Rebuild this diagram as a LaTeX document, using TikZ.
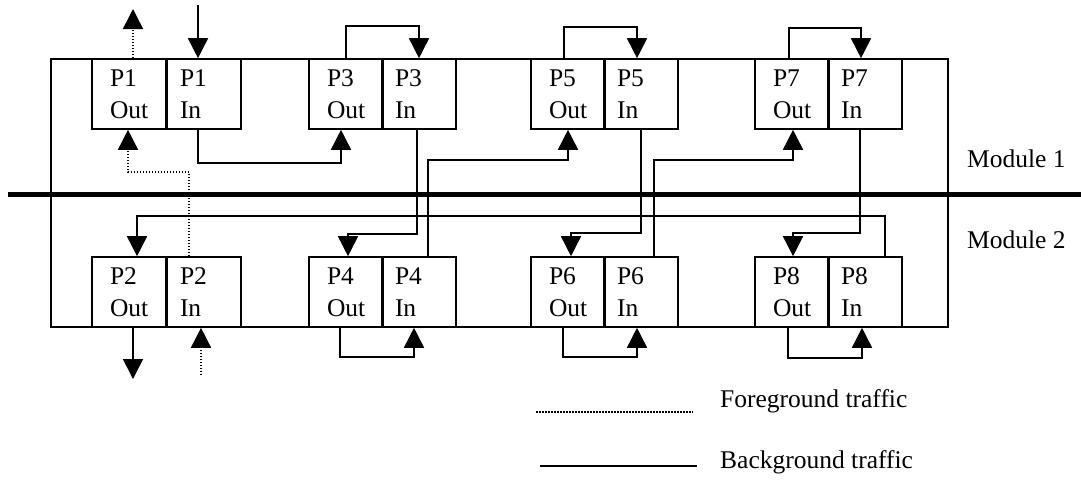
\documentclass[tikz,border=0pt]{standalone}
\usepackage{fontspec}
\setmainfont{Liberation Serif}
\usetikzlibrary{arrows.meta}
\begin{document}
\begin{tikzpicture}[x=1pt,y=-1pt,
  port/.style={draw, line width=1.6pt, minimum width=74pt, minimum height=70pt,
    inner sep=0pt, align=left, font=\fontsize{25.5}{32}\selectfont},
  outport/.style={port, text width=38pt},
  inport/.style={port, text width=48pt},
  bgline/.style={line width=1.6pt},
  bg/.style={bgline, -{Triangle[length=20pt,width=20pt]}},
  fgline/.style={line width=1.5pt, dash pattern=on 1.5pt off 1.5pt},
  fg/.style={fgline, -{Triangle[length=20pt,width=20pt]}},
  lbl/.style={font=\fontsize{25.5}{30}\selectfont, anchor=base west, inner sep=0pt}]
\useasboundingbox (0,0) rectangle (1081,479);

% module frame and separator
\draw[line width=1.6pt] (51,59) rectangle (948,327);
\draw[line width=5pt] (8,194) -- (1081,194);

% module 1 ports
\node[outport] (P1out) at (129,94) {P1\\Out};
\node[inport]  (P1in)  at (204,94) {P1\\In};
\node[outport] (P3out) at (346,94) {P3\\Out};
\node[inport]  (P3in)  at (419,94) {P3\\In};
\node[outport] (P5out) at (568,94) {P5\\Out};
\node[inport]  (P5in)  at (641,94) {P5\\In};
\node[outport] (P7out) at (792,94) {P7\\Out};
\node[inport]  (P7in)  at (865,94) {P7\\In};

% module 2 ports
\node[outport] (P2out) at (129,292) {P2\\Out};
\node[inport]  (P2in)  at (204,292) {P2\\In};
\node[outport] (P4out) at (346,292) {P4\\Out};
\node[inport]  (P4in)  at (419,292) {P4\\In};
\node[outport] (P6out) at (568,292) {P6\\Out};
\node[inport]  (P6in)  at (641,292) {P6\\In};
\node[outport] (P8out) at (792,292) {P8\\Out};
\node[inport]  (P8in)  at (865,292) {P8\\In};

% labels
\node[lbl] (m1) at (967,167) {Module 1};
\node[lbl] (m2) at (967,248) {Module 2};
\node[lbl] (fgtxt) at (720,407) {Foreground traffic};
\node[lbl] (bgtxt) at (720,468) {Background traffic};

% free ends
\coordinate (p1outtop) at (133,9);
\coordinate (p1intop) at (198,5);
\coordinate (p2outbot) at (133,379);
\coordinate (p2inbot) at (201,375);
\coordinate (fgA) at (536,412);
\coordinate (fgB) at (693,412);
\coordinate (bgA) at (540,466);
\coordinate (bgB) at (697,466);

% foreground traffic
\draw[fg] ([xshift=4pt]P1out.north) -- (p1outtop);
\draw[fg] ([xshift=-15pt]P2in.north) -- ++(0,-84) -| ([xshift=-1pt]P1out.south);
\draw[fg] (p2inbot) -- ([xshift=-3pt]P2in.south);

% background traffic
\draw[bg] (p1intop) -- ([xshift=-6pt]P1in.north);
\draw[bg] ([xshift=-6pt]P1in.south) -- ++(0,33) -| ([xshift=-5pt]P3out.south);
\draw[bg] (P3out.north) -- ++(0,-32) -| (P3in.north);
\draw[bg] ([xshift=-2pt]P3in.south) -- ++(0,104) -| ([xshift=2pt]P4out.north);
\draw[bg] ([xshift=9pt]P4in.north) -- ++(0,-96) -| (P5out.south);
\draw[bg] ([xshift=-4pt]P5out.north) -- ++(0,-31) -| ([xshift=-4pt]P5in.north);
\draw[bg] (P5in.south) -- ++(0,103) -| ([xshift=3pt]P6out.north);
\draw[bg] ([xshift=13pt]P6in.north) -- ++(0,-96) -| ([xshift=1pt]P7out.south);
\draw[bg] ([xshift=-3pt]P7out.north) -- ++(0,-30) -| ([xshift=-4pt]P7in.north);
\draw[bg] ([xshift=-5pt]P7in.south) -- ++(0,103) -| ([xshift=1pt]P8out.north);
\draw[bg] ([xshift=20pt]P8in.north) -- ++(0,-40) -| ([xshift=8pt]P2out.north);
\draw[bg] ([xshift=4pt]P2out.south) -- (p2outbot);
\draw[bg] ([xshift=-6pt]P4out.south) -- ++(0,29) -| ([xshift=-5pt]P4in.south);
\draw[bg] ([xshift=-5pt]P6out.south) -- ++(0,29) -| ([xshift=-4pt]P6in.south);
\draw[bg] ([xshift=-4pt]P8out.south) -- ++(0,30) -| ([xshift=-3pt]P8in.south);

% legend
\draw[fgline] (fgA) -- (fgB);
\draw[bgline] (bgA) -- (bgB);
\end{tikzpicture}
\end{document}
